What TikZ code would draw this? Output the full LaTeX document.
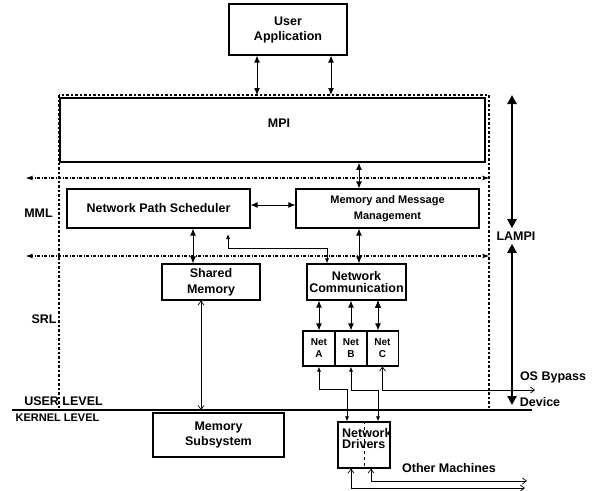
\documentclass[tikz,border=0pt]{standalone}
\usepackage{fontspec}
\setmainfont{Liberation Sans}
\usetikzlibrary{arrows.meta}

\begin{document}
\begin{tikzpicture}
      [ x=1pt, y=-1pt
      , font=\bfseries\fontsize{12.5}{15}\selectfont
      , block/.style={draw, line width=1.1pt, inner sep=0pt, align=center}
      , netblock/.style={block, minimum width=32pt, minimum height=35pt, font=\bfseries\fontsize{10}{12}\selectfont}
      , dotbox/.style={draw, line width=1.2pt, dash pattern=on 2.5pt off 2pt}
      , twoway/.style={draw, line width=1pt, {Latex[length=7pt,width=6pt]}-{Latex[length=7pt,width=6pt]}}
      , smalllink/.style={draw, line width=0.8pt, {Latex[length=5pt,width=4pt]}-{Latex[length=5pt,width=4pt]}}
      , wire/.style={draw, line width=0.7pt, {Straight Barb[length=4pt,width=6pt]}-{Straight Barb[length=4pt,width=6pt]}}
      , layerline/.style={draw, line width=1.1pt, dash pattern=on 3pt off 1.5pt on 1pt off 1.5pt, {Stealth[length=7pt,width=4.5pt]}-{Stealth[length=7pt,width=4.5pt]}}
      , span/.style={draw, line width=2.2pt, {Triangle[length=9pt,width=9pt]}-{Triangle[length=9pt,width=9pt]}}
      ]
    \useasboundingbox (0,0) rectangle (597,490);

    \coordinate (boxTL) at (59,95);
    \coordinate (boxBR) at (489,410);
    \coordinate (lvlL) at (12,410);
    \coordinate (lvlR) at (532,410);
    \coordinate (mmlL) at (26,178);
    \coordinate (mmlR) at (489,178);
    \coordinate (srlL) at (26,256);
    \coordinate (srlR) at (489,256);
    \coordinate (npsport) at (228,234);
    \coordinate (osbypass) at (535,390);
    \coordinate (otherA) at (525,488);
    \coordinate (otherB) at (527,481);
    \coordinate (lampiTop) at (512,95);
    \coordinate (lampiBot) at (512,405);

    \node[block, minimum width=118pt, minimum height=51pt] (UA) at (288,29.5) {User\\Application};
    \node[block, line width=1.6pt, minimum width=425pt, minimum height=64pt] (MPI) at (272.5,130) {};
    \node (mpiname) at (279,123) {MPI};
    \node[block, minimum width=183pt, minimum height=39pt] (NPS) at (158.5,208.5) {Network Path Scheduler};
    \node[block, minimum width=183pt, minimum height=39pt, font=\bfseries\fontsize{11}{16}\selectfont] (MMM) at (387.5,208.5) {Memory and Message\\Management};
    \node[block, minimum width=98pt, minimum height=36pt, font=\bfseries\fontsize{12.5}{16}\selectfont] (SM) at (211,282) {Shared\\Memory};
    \node[block, minimum width=99pt, minimum height=36pt, font=\bfseries\fontsize{12.5}{12}\selectfont] (NC) at (356.5,282) {Network\\Communication};
    \node[netblock] (netA) at (319,348.5) {Net\\A};
    \node[netblock] (netB) at (351,348.5) {Net\\B};
    \node[netblock] (netC) at (382.5,348.5) {Net\\C};
    \node[block, minimum width=131pt, minimum height=44pt] (MS) at (218.5,435) {Memory\\Subsystem};
    \node[block, minimum width=52pt, minimum height=46pt] (ND) at (364,445) {};
    \node[anchor=north west, align=left, inner sep=0pt, font=\bfseries\fontsize{12.5}{11}\selectfont] (ndname) at (342,428) {Network\\Drivers};

    \node (mml) at (38.5,213) {MML};
    \node (srl) at (44,319) {SRL};
    \node (lampi) at (516,236) {LAMPI};
    \node (user) at (63.5,401) {USER LEVEL};
    \node[font=\bfseries\fontsize{11}{13}\selectfont] (kernel) at (57.5,418) {KERNEL LEVEL};
    \node (bypass) at (553,377) {OS Bypass};
    \node (device) at (540,402) {Device};
    \node (others) at (449,468) {Other Machines};

    % layers
    \draw[dotbox] (boxTL) rectangle (boxBR);
    \draw[line width=2.2pt] (lvlL) -- (lvlR);
    \draw[layerline] (mmlL) -- (mmlR);
    \draw[layerline] (srlL) -- (srlR);
    \draw[span] (lampiTop) -- (lampiTop |- lampi.north);
    \draw[span] (lampiBot |- lampi.south) -- (lampiBot);

    \draw[twoway]
    ([xshift=-31pt]UA.south) edge ([xshift=-31pt]UA.south |- boxTL)
    ([xshift=43pt]UA.south) edge ([xshift=43pt]UA.south |- boxTL)

    ([yshift=3.5pt]NPS.east) edge ([yshift=3.5pt]MMM.west)
    ([xshift=-28.5pt]MMM.north |- MPI.south) edge ([xshift=-28.5pt]MMM.north)
    ([xshift=-28.5pt]MMM.south) edge ([xshift=-28.5pt]MMM.south |- NC.north)
    ([xshift=34.5pt]NPS.south) edge ([xshift=34.5pt]NPS.south |- SM.north)

    (netA.north |- NC.south) edge (netA.north)
    (netB.north |- NC.south) edge (netB.north)
    ([xshift=-4.5pt]netC.north |- NC.south) edge ([xshift=-4.5pt]netC.north);

    \draw[smalllink] (npsport) -- ++(0,14) -| ([xshift=-29.5pt]NC.north);
    \draw[smalllink] (netA.south) -- ++(0,23) -| ([xshift=-17pt]ND.north);
    \draw[smalllink] (netB.south) -- ++(0,24) -| ([xshift=14pt]ND.north);

    \draw[wire] ([xshift=-10pt]SM.south) -- ([xshift=-10pt]SM.south |- lvlL);
    \draw[wire] (netC.south) |- (osbypass);
    \draw[wire] ([xshift=-13pt]ND.south) |- (otherA);
    \draw[wire] ([xshift=7pt]ND.south) |- (otherB);
    \draw[dashed, line width=0.7pt] (ND.north) -- (ND.south);

  \end{tikzpicture}
\end{document}
